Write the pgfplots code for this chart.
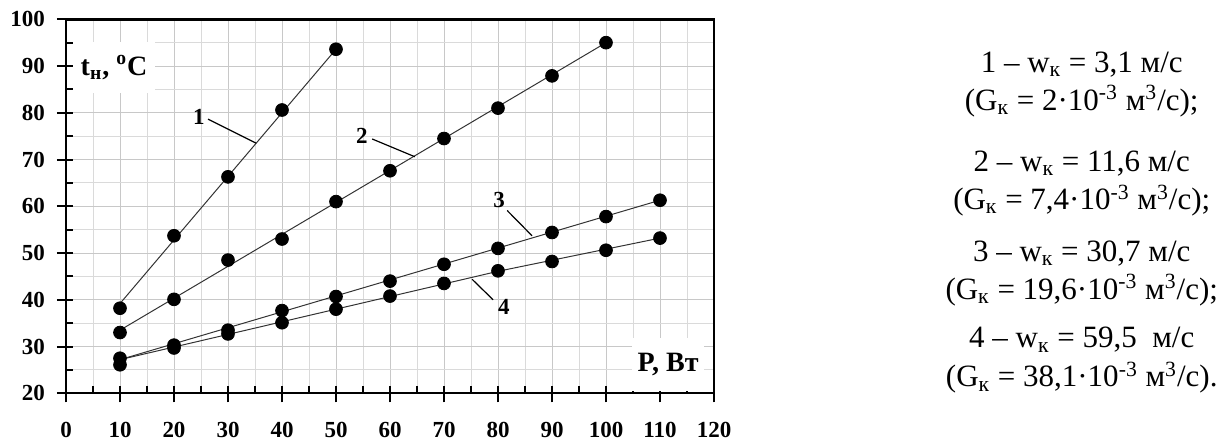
\documentclass[border=0pt]{standalone}
\usepackage{fontspec}
\setmainfont{Liberation Serif}
\usepackage{pgfplots}
\pgfplotsset{compat=1.18}
\definecolor{gridgray}{RGB}{200,200,200}
\definecolor{gridlight}{RGB}{218,218,218}

\begin{document}
\begin{tikzpicture}
\begin{axis}[
  name=ax,
  scale only axis,
  width=324pt, height=187pt,
  xmin=0, xmax=120, ymin=20, ymax=100,
  xtick={0,10,...,120}, ytick={20,30,...,100},
  minor tick num=1,
  grid=both,
  major grid style={gridgray, line width=0.5pt},
  minor grid style={gridlight, line width=0.5pt},
  axis line style={line width=1.1pt},
  tick style={black, line width=1pt},
  tick align=outside,
  xtick pos=bottom, ytick pos=left,
  major tick length=8pt,
  minor tick length=3.5pt,
  every major x tick/.append style={yshift=3.5pt},
  every minor x tick/.append style={yshift=3.5pt},
  every major y tick/.append style={xshift=3.5pt},
  every minor y tick/.append style={xshift=3.5pt},
  /pgf/number format/assume math mode=true,
  ticklabel style={font=\fontsize{11.5}{13}\selectfont\bfseries},
  xticklabel shift=3pt,
  yticklabel shift=-1pt,
  clip=false,
]
% fitted lines
\addplot[no marks, black!80, line width=0.5pt] coordinates {(10,39.2) (50,93.6)};
\addplot[no marks, black!80, line width=0.5pt] coordinates {(10,33.5) (100,95.0)};
\addplot[no marks, black!80, line width=0.5pt] coordinates {(10,27.2) (110,61.3)};
\addplot[no marks, black!80, line width=0.5pt] coordinates {(10,27.2) (50,38.0) (80,46.1) (110,53.2)};
% measured points
\addplot[only marks, mark=*, mark size=3.2pt, black] coordinates {
  (10,38.2) (20,53.7) (30,66.3) (40,80.6) (50,93.6)};
\addplot[only marks, mark=*, mark size=3.2pt, black] coordinates {
  (10,33.0) (20,40.1) (30,48.5) (40,53.0) (50,61.0)
  (60,67.6) (70,74.5) (80,81.0) (90,87.9) (100,95.0)};
\addplot[only marks, mark=*, mark size=3.2pt, black] coordinates {
  (10,27.5) (20,30.3) (30,33.5) (40,37.7) (50,40.7) (60,44.0)
  (70,47.6) (80,51.0) (90,54.4) (100,57.8) (110,61.3)};
\addplot[only marks, mark=*, mark size=3.2pt, black] coordinates {
  (10,26.1) (20,29.7) (30,32.7) (40,35.1) (50,38.0) (60,40.8)
  (70,43.5) (80,46.2) (90,48.2) (100,50.6) (110,53.2)};

% curve numbers
\node[font=\fontsize{11.5}{13}\selectfont\bfseries] at (axis cs:24.6,79.1) {1};
\draw[line width=0.6pt] (axis cs:26.3,78.65) -- (axis cs:35.2,73.5);
\node[font=\fontsize{11.5}{13}\selectfont\bfseries] at (axis cs:54.8,75.1) {2};
\draw[line width=0.6pt] (axis cs:56.7,74.4) -- (axis cs:64.6,70.6);
\node[font=\fontsize{11.5}{13}\selectfont\bfseries] at (axis cs:80.2,61.3) {3};
\draw[line width=0.6pt] (axis cs:81.7,59.1) -- (axis cs:86.3,53.7);
\node[font=\fontsize{11.5}{13}\selectfont\bfseries] at (axis cs:81.1,38.5) {4};
\draw[line width=0.6pt] (axis cs:79.1,40.0) -- (axis cs:75.2,44.4);

% axis titles
\node[fill=white, inner sep=0pt, minimum width=41pt, minimum height=25.5pt,
      font=\fontsize{14}{16}\selectfont\bfseries] at (axis cs:8.9,89.7)
  {t\textsubscript{н}, \textsuperscript{o}C};
\node[fill=white, inner sep=0pt, minimum width=36pt, minimum height=26.5pt,
      font=\fontsize{14}{16}\selectfont\bfseries] at (axis cs:111.5,26.1)
  {P, Вт};

% legend text
\begin{scope}[every node/.style={anchor=base, font=\fontsize{15.5}{18}\selectfont, inner sep=0pt}]
\node at (axis cs:188.1,88.7) {1 – w\textsubscript{к} = 3,1 м/с};
\node at (axis cs:188.1,80.6) {(G\textsubscript{к} = 2·10\textsuperscript{-3} м\textsuperscript{3}/с);};
\node at (axis cs:188.1,67.5) {2 – w\textsubscript{к} = 11,6 м/с};
\node at (axis cs:188.1,59.3) {(G\textsubscript{к} = 7,4·10\textsuperscript{-3} м\textsuperscript{3}/с);};
\node at (axis cs:188.1,48.2) {3 – w\textsubscript{к} = 30,7 м/с};
\node at (axis cs:188.1,40.1) {(G\textsubscript{к} = 19,6·10\textsuperscript{-3} м\textsuperscript{3}/с);};
\node at (axis cs:188.1,29.7) {4 – w\textsubscript{к} = 59,5\ \ м/с};
\node at (axis cs:188.1,21.35) {(G\textsubscript{к} = 38,1·10\textsuperscript{-3} м\textsuperscript{3}/с).};
\end{scope}
\end{axis}
\draw[line width=1.2pt] (ax.north west) -- (ax.north east) -- (ax.south east);
\pgfresetboundingbox
\path (ax.south west) ++(-33pt,-23.85pt) rectangle ++(614pt,220.5pt);
\end{tikzpicture}
\end{document}
